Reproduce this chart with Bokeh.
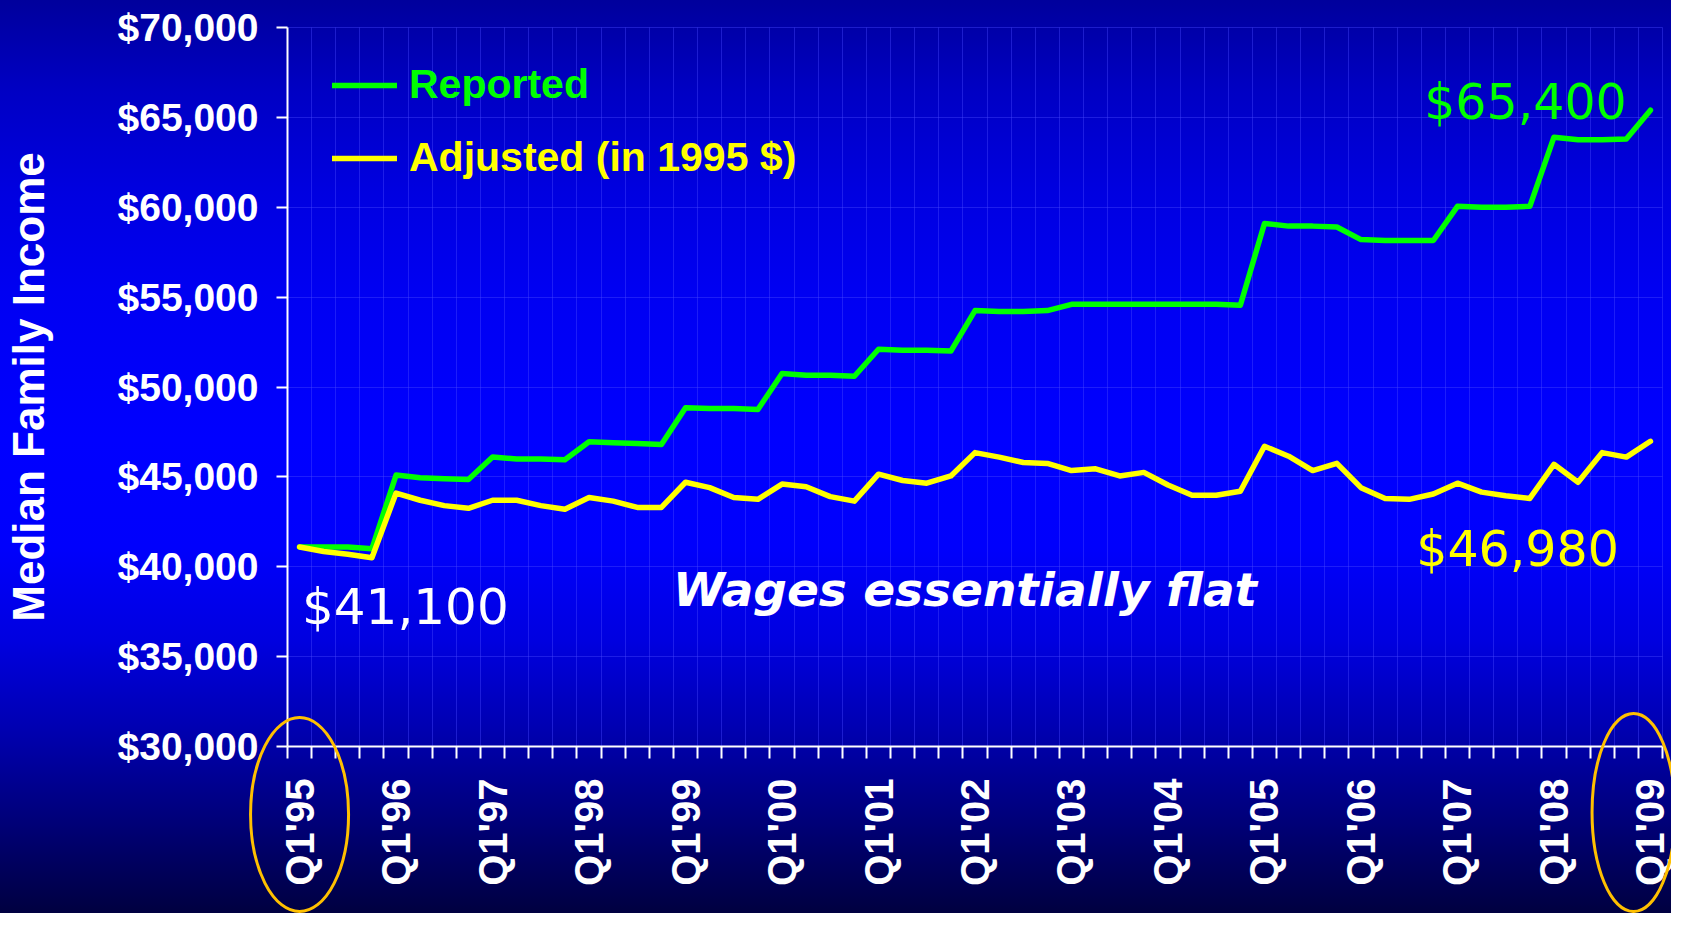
import math
from bokeh.plotting import figure
from bokeh.models import (Range1d, FixedTicker, NumeralTickFormatter, Legend, LegendItem,
                          Label, ColumnDataSource)
from bokeh.embed import file_html
from bokeh.resources import INLINE

# ---------------- data ----------------
years = ["95", "96", "97", "98", "99", "00", "01", "02", "03", "04", "05", "06", "07", "08", "09"]
quarters = [f"Q{q}'{y}" for y in years[:-1] for q in range(1, 5)] + ["Q1'09"]

reported = [
    41100, 41100, 41100, 41000,   # 1995
    45100, 44950, 44900, 44850,   # 1996
    46100, 46000, 46000, 45950,   # 1997
    46950, 46900, 46850, 46800,   # 1998
    48850, 48800, 48800, 48750,   # 1999
    50750, 50650, 50650, 50600,   # 2000
    52100, 52050, 52050, 52000,   # 2001
    54250, 54200, 54200, 54250,   # 2002
    54600, 54600, 54600, 54600,   # 2003
    54600, 54600, 54600, 54550,   # 2004
    59100, 58950, 58950, 58900,   # 2005
    58200, 58150, 58150, 58150,   # 2006
    60050, 60000, 60000, 60050,   # 2007
    63900, 63750, 63750, 63800,   # 2008
    65400,                        # Q1 2009
]

adjusted = [
    41100, 40850, 40700, 40500,   # 1995
    44100, 43700, 43400, 43250,   # 1996
    43700, 43700, 43400, 43200,   # 1997
    43850, 43650, 43300, 43300,   # 1998
    44700, 44400, 43850, 43750,   # 1999
    44600, 44450, 43900, 43650,   # 2000
    45150, 44800, 44650, 45050,   # 2001
    46350, 46100, 45800, 45750,   # 2002
    45350, 45450, 45050, 45250,   # 2003
    44550, 43980, 43980, 44200,   # 2004
    46700, 46150, 45350, 45750,   # 2005
    44400, 43800, 43750, 44050,   # 2006
    44650, 44150, 43950, 43800,   # 2007
    45700, 44700, 46350, 46100,   # 2008
    46980,                        # Q1 2009
]

y_ticks = [30000, 35000, 40000, 45000, 50000, 55000, 60000, 65000, 70000]
tick_labels = {i: quarters[i] for i in range(0, len(quarters), 4)}

# ---------------- layout (pixels) ----------------
W, H = 1671, 913
PL, PR, PT, PB = 287, 1662, 27, 746          # plot-area edges on the canvas
n = len(quarters)
px_per_q = (PR - PL) / n
px_per_unit = (PB - PT) / (y_ticks[-1] - y_ticks[0])
x_lo = -0.5 - PL / px_per_q
x_hi = n - 0.5 + (W - PR) / px_per_q
y_hi = y_ticks[-1] + PT / px_per_unit
y_lo = y_ticks[0] - (H - PB) / px_per_unit

x = list(range(n))
src = ColumnDataSource(dict(x=x, quarter=quarters, reported=reported, adjusted=adjusted))

p = figure(width=W, height=H,
           x_range=Range1d(x_lo, x_hi), y_range=Range1d(y_lo, y_hi),
           output_backend="svg", toolbar_location=None, min_border=0,
           min_border_left=0, min_border_right=0, min_border_top=0, min_border_bottom=0)

p.styles = {"background": "linear-gradient(to bottom, #00009c 0%, #0000c4 10%, #0000e0 21%, "
                          "#0000f2 32%, #0000ff 48%, #0000fc 60%, #0000e0 70%, #0000b0 80%, "
                          "#000078 90%, #000040 100%)"}
p.background_fill_alpha = 0
p.border_fill_alpha = 0
p.outline_line_color = None

# ---------------- axes ----------------
xa = p.xaxis[0]
xticker = FixedTicker(ticks=list(tick_labels.keys()),
                      minor_ticks=[i - 0.5 for i in range(n + 1)])
xa.ticker = xticker
xa.fixed_location = y_ticks[0]
xa.bounds = (-0.5, n - 0.5)
xa.major_label_overrides = tick_labels
xa.major_label_orientation = math.pi / 2
xa.major_tick_out = 0
xa.major_tick_in = 0
xa.minor_tick_out = 12
xa.minor_tick_in = 0
xa.minor_tick_line_color = "white"
xa.minor_tick_line_width = 2
xa.axis_line_color = "white"
xa.axis_line_width = 2
xa.major_label_standoff = 20
xa.major_label_text_font = "Liberation Sans"
xa.major_label_text_font_style = "bold"
xa.major_label_text_font_size = "40px"
xa.major_label_text_color = "white"

ya = p.yaxis[0]
yticker = FixedTicker(ticks=y_ticks)
ya.ticker = yticker
ya.fixed_location = -0.5
ya.bounds = (y_ticks[0], y_ticks[-1])
ya.formatter = NumeralTickFormatter(format="$0,0")
ya.major_tick_out = 11
ya.major_tick_in = 0
ya.minor_tick_out = 0
ya.minor_tick_in = 0
ya.major_tick_line_color = "white"
ya.major_tick_line_width = 2
ya.axis_line_color = "white"
ya.axis_line_width = 2
ya.major_label_standoff = 18
ya.major_label_text_font = "Liberation Sans"
ya.major_label_text_font_style = "bold"
ya.major_label_text_font_size = "39px"
ya.major_label_text_color = "white"
ya.axis_label = "Median Family Income"
ya.axis_label_text_font = "Liberation Sans"
ya.axis_label_text_font_style = "bold"
ya.axis_label_text_font_size = "44px"
ya.axis_label_text_color = "white"
ya.axis_label_standoff = 62

# ---------------- grids (limited to the plot area) ----------------
grid_col, grid_alpha = "#4848ff", 0.4
p.xgrid.ticker = xticker
p.ygrid.ticker = yticker
if hasattr(p.xgrid, "cross_bounds"):
    p.xgrid.grid_line_color = None
    p.xgrid.minor_grid_line_color = grid_col
    p.xgrid.minor_grid_line_alpha = grid_alpha
    p.xgrid.cross_bounds = (y_ticks[0], y_ticks[-1])
    p.ygrid.grid_line_color = grid_col
    p.ygrid.grid_line_alpha = grid_alpha
    p.ygrid.cross_bounds = (-0.5, n - 0.5)
else:
    p.xgrid.visible = False
    p.ygrid.visible = False
    bx = [i - 0.5 for i in range(n + 1)]
    p.segment(x0=bx, x1=bx, y0=[y_ticks[0]] * len(bx), y1=[y_ticks[-1]] * len(bx),
              line_color=grid_col, line_alpha=grid_alpha, line_width=1)
    p.segment(x0=[-0.5] * len(y_ticks), x1=[n - 0.5] * len(y_ticks), y0=y_ticks, y1=y_ticks,
              line_color=grid_col, line_alpha=grid_alpha, line_width=1)

# ---------------- series ----------------
r_rep = p.line("x", "reported", source=src, line_color="#00FF00", line_width=5.5,
               line_join="round", line_cap="round")
r_adj = p.line("x", "adjusted", source=src, line_color="#FFFF00", line_width=5.5,
               line_join="round", line_cap="round")

# ---------------- legends (one per colour) ----------------
for label, rend, col, loc in (("Reported", r_rep, "#00FF00", (332, 805)),
                              ("Adjusted (in 1995 $)", r_adj, "#FFFF00", (332, 732))):
    lg = Legend(items=[LegendItem(label=label, renderers=[rend])], location=loc)
    lg.label_text_color = col
    lg.label_text_font = "Liberation Sans"
    lg.label_text_font_style = "bold"
    lg.label_text_font_size = "41px"
    lg.glyph_width = 65
    lg.glyph_height = 40
    lg.label_standoff = 12
    lg.padding = 0
    lg.margin = 0
    lg.spacing = 0
    lg.border_line_alpha = 0
    lg.background_fill_alpha = 0
    p.add_layout(lg)

# ---------------- call-outs ----------------
def callout(xv, yv, text, color, size="49px", style="normal"):
    p.add_layout(Label(x=xv, y=yv, text=text, text_color=color, text_font="DejaVu Sans",
                       text_font_size=size, text_font_style=style,
                       text_align="left", text_baseline="alphabetic"))

callout(0.10, 37770, "$41,100", "white", size="50px")
callout(46.62, 65850, "$65,400", "#00FF00")
callout(46.29, 40940, "$46,980", "#FFFF00")
callout(15.48, 38730, "Wages essentially flat", "white", size="47px", style="bold italic")

# ---------------- highlight ellipses around first / last labels ----------------
ell = p.ellipse(x=[0.0, 55.3], y=[26217, 26328],
                width=[98 / px_per_q, 83 / px_per_q],
                height=[194 / px_per_unit, 198 / px_per_unit],
                fill_alpha=0, line_color="#FFC000", line_width=3)
ell.level = "overlay"

open("out.html", "w").write(file_html(p, INLINE))
